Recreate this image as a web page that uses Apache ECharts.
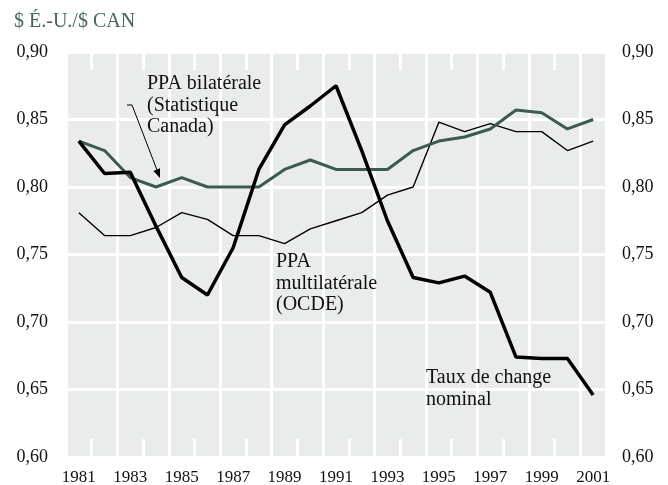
<!DOCTYPE html>
<html>
<head>
<meta charset="utf-8">
<script src="https://cdn.jsdelivr.net/npm/echarts@6/dist/echarts.min.js"></script>
<style>
  html, body { margin: 0; padding: 0; background: #fff; }
  #chart { width: 668px; height: 485px; }
</style>
</head>
<body>
<div id="chart"></div>
<script>
// années
const years = ["1981", "1982", "1983", "1984", "1985", "1986", "1987", "1988", "1989", "1990",
  "1991", "1992", "1993", "1994", "1995", "1996", "1997", "1998", "1999", "2000", "2001"];

// taux de change nominal
const nominal = [0.834, 0.810, 0.811, 0.771, 0.733, 0.720, 0.755, 0.813, 0.846, 0.860,
  0.875, 0.827, 0.775, 0.733, 0.729, 0.734, 0.722, 0.674, 0.673, 0.673, 0.646];

// PPA bilatérale (Statistique Canada)
const ppaBilat = [0.834, 0.827, 0.807, 0.800, 0.807, 0.800, 0.800, 0.800, 0.813, 0.820,
  0.813, 0.813, 0.813, 0.827, 0.834, 0.837, 0.843, 0.857, 0.855, 0.843, 0.850];

// PPA multilatérale (OCDE)
const ppaMulti = [0.781, 0.764, 0.764, 0.770, 0.781, 0.776, 0.764, 0.764, 0.758, 0.769,
  0.775, 0.781, 0.794, 0.800, 0.848, 0.841, 0.847, 0.841, 0.841, 0.827, 0.834];

const FONT = "Liberation Serif";
const fmt = v => v.toFixed(2).replace(".", ",");

const chart = echarts.init(document.getElementById("chart"));

const tickStyle = {
  show: true,
  inside: true,
  interval: 0,
  length: 18,
  lineStyle: { color: "#ffffff", width: 3 }
};

// style commun des annotations
const note = (left, top, text) => ({
  type: "text", left: left, top: top, z: 100,
  style: { text: text, fontFamily: FONT, fontSize: 20, lineHeight: 21.5, fill: "#111" }
});

chart.setOption({
  animation: false,
  grid: {
    left: 66, right: 62, top: 52, bottom: 28,
    outerBoundsMode: "none",
    show: true,
    backgroundColor: "#e9eceb",
    borderWidth: 0
  },
  xAxis: [
    {
      type: "category",
      data: years,
      boundaryGap: true,
      axisLine: { show: false },
      axisTick: tickStyle,
      axisLabel: {
        interval: 1,
        margin: 12,
        fontFamily: FONT,
        fontSize: 17,
        color: "#111"
      },
      splitLine: {
        show: true,
        interval: 1,
        lineStyle: { color: "#ffffff", width: 3 }
      }
    },
    {
      type: "category",
      data: years,
      position: "top",
      boundaryGap: true,
      axisLine: { show: false },
      axisTick: tickStyle,
      axisLabel: { show: false },
      splitLine: { show: false }
    }
  ],
  yAxis: [
    {
      type: "value",
      min: 0.60, max: 0.90, interval: 0.05,
      axisLine: { show: false },
      axisTick: { show: false },
      axisLabel: {
        margin: 18,
        formatter: fmt,
        fontFamily: FONT,
        fontSize: 18,
        color: "#111"
      },
      splitLine: { show: true, lineStyle: { color: "#ffffff", width: 3 } }
    },
    {
      type: "value",
      position: "right",
      min: 0.60, max: 0.90, interval: 0.05,
      axisLine: { show: false },
      axisTick: { show: false },
      axisLabel: {
        margin: 16,
        formatter: fmt,
        fontFamily: FONT,
        fontSize: 18,
        color: "#111"
      },
      splitLine: { show: false }
    }
  ],
  series: [
    {
      name: "PPA multilatérale (OCDE)",
      type: "line",
      data: ppaMulti,
      symbol: "none",
      lineStyle: { color: "#000000", width: 1.4 }
    },
    {
      name: "PPA bilatérale (Statistique Canada)",
      type: "line",
      data: ppaBilat,
      symbol: "none",
      lineStyle: { color: "#3b5a54", width: 3 }
    },
    {
      name: "Taux de change nominal",
      type: "line",
      data: nominal,
      symbol: "none",
      lineStyle: { color: "#000000", width: 3.5 }
    }
  ],
  graphic: [
    {
      type: "text", left: 14, top: 12, z: 100,
      style: { text: "$ É.-U./$ CAN", fontFamily: FONT, fontSize: 20, fill: "#456660" }
    },
    note(147, 73, "PPA bilatérale\n(Statistique\nCanada)"),
    note(276, 251, "PPA\nmultilatérale\n(OCDE)"),
    note(426, 367, "Taux de change\nnominal"),
    {
      type: "polyline", z: 100,
      shape: { points: [[127, 105], [132, 105], [157, 170]] },
      style: { stroke: "#000", lineWidth: 1, fill: null }
    },
    {
      type: "polygon", z: 100,
      shape: { points: [[160, 178], [153.4, 170.9], [160, 168.3]] },
      style: { fill: "#000" }
    }
  ]
});
</script>
</body>
</html>
